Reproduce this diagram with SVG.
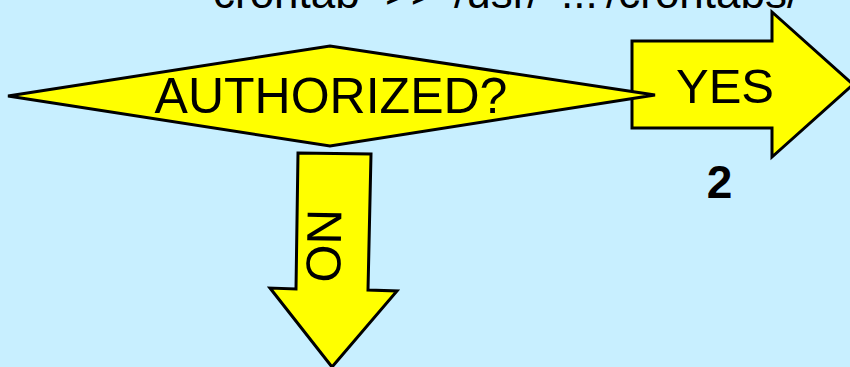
<svg xmlns="http://www.w3.org/2000/svg" width="850" height="367" viewBox="0 0 850 367">
<style>
.shape{fill:#FFFF00;stroke:#000;stroke-width:3;stroke-linejoin:miter}
.lbl{font-family:"Liberation Sans",Arial,sans-serif;fill:#000}
</style>
<rect width="850" height="367" fill="#C8EFFF"/>
<g id="title">
<text class="lbl" font-size="44" y="7.5"><tspan x="213">crontab</tspan><tspan x="385">&gt;&gt;</tspan><tspan x="454">/usr/</tspan><tspan x="561">...</tspan><tspan x="606">/crontabs/</tspan></text>
</g>
<g id="connectors">
<g id="yes-arrow">
<polygon class="shape" points="632,41 772,41 772,12 853,84.5 772,157 772,128 632,128"/>
<text class="lbl" font-size="49" x="725" y="103" text-anchor="middle">YES</text>
</g>
<g id="no-arrow">
<polygon class="shape" points="298,153 371,154 368,290 397,291 332,367 270,288 296,289"/>
<text class="lbl" font-size="49" text-anchor="middle" transform="translate(307,245.5) rotate(91)">NO</text>
</g>
</g>
<g id="decision">
<polygon class="shape" points="8,96 330,46 655,95 330,146"/>
<text class="lbl" font-size="50" x="331" y="113" text-anchor="middle">AUTHORIZED?</text>
</g>
<g id="label-2">
<text class="lbl" font-size="46" font-weight="bold" x="719.5" y="198" text-anchor="middle">2</text>
</g>
</svg>
